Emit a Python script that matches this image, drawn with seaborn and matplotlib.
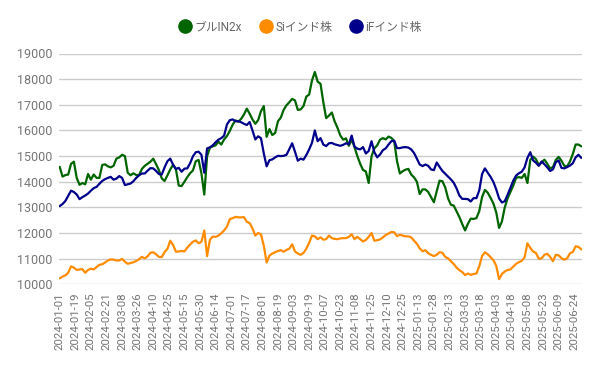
import numpy as np
import pandas as pd
import matplotlib
matplotlib.use("Agg")
import matplotlib.pyplot as plt
from matplotlib.lines import Line2D
import seaborn as sns

# ---- data (every 2nd trading day) ----
N_DAYS = 369          # trading days on the category axis
STEP = 2              # sampling step of the series below
TICK_EVERY = 11

tick_labels = [
    "2024-01-01", "2024-01-19", "2024-02-05", "2024-02-21", "2024-03-08", "2024-03-26",
    "2024-04-10", "2024-04-25", "2024-05-15", "2024-05-30", "2024-06-14", "2024-07-01",
    "2024-07-17", "2024-08-01", "2024-08-19", "2024-09-03", "2024-09-19", "2024-10-07",
    "2024-10-23", "2024-11-08", "2024-11-25", "2024-12-10", "2024-12-25", "2025-01-13",
    "2025-01-28", "2025-02-13", "2025-03-03", "2025-03-18", "2025-04-03", "2025-04-18",
    "2025-05-08", "2025-05-23", "2025-06-09", "2025-06-24",
]

bull_in2x = [
    14580, 14200, 14260, 14280, 14700, 14780, 14150, 13880, 13950, 13900,
    14300, 14080, 14280, 14150, 14150, 14650, 14680, 14600, 14560, 14620,
    14900, 14950, 15050, 15000, 14350, 14250, 14330, 14260, 14260, 14500,
    14620, 14700, 14780, 14900, 14680, 14450, 14130, 14030, 14250, 14480,
    14660, 14480, 13850, 13830, 14000, 14180, 14330, 14440, 14800, 14850,
    14320, 13500, 15000, 15330, 15380, 15420, 15560, 15450, 15650, 15780,
    15980, 16220, 16390, 16340, 16450, 16620, 16850, 16650, 16430, 16260,
    16400, 16750, 16950, 15750, 16050, 15820, 15900, 16360, 16500, 16800,
    16980, 17100, 17230, 17170, 16800,
    16820, 16950, 17320, 17400, 17950, 18280, 17900, 17820, 17100, 16480,
    16580, 16700, 16350, 16100, 15800, 15640, 15690, 15400, 15640, 15350,
    15000, 14700, 14460, 14400, 13950, 14990, 15300, 15420, 15640, 15700,
    15650, 15760, 15710, 15580, 14800, 14320, 14410, 14470, 14500, 14280,
    14170, 14000, 13520, 13700, 13700, 13600, 13400, 13200, 13630, 14040,
    14020, 13780, 13350, 13100, 13070, 12840, 12620, 12350, 12100, 12360,
    12560, 12550, 12580, 12850, 13400, 13680, 13570, 13370, 13150, 12800,
    12200, 12450, 13000, 13350, 13600, 13850, 14150, 14180, 14150, 14300,
    13950, 14850, 14980, 14880, 14650, 14750, 14860, 14700, 14520, 14570,
    14850, 14970, 14820, 14620, 14600, 14790, 15080, 15450, 15450, 15380,
]

si_india = [
    10230, 10300, 10350, 10450, 10700, 10650, 10560, 10580, 10590, 10450,
    10560, 10610, 10580, 10670, 10760, 10780, 10850, 10930, 10970, 10960,
    10930, 10930, 10990, 10880, 10800, 10830, 10860, 10910, 10980, 11070,
    11010, 11090, 11230, 11250, 11170, 11070, 11060, 11260, 11380, 11700,
    11530, 11270, 11280, 11300, 11280, 11430, 11550, 11660, 11710, 11600,
    11660, 12100, 11100, 11740, 11860, 11850, 11900, 11990, 12100, 12250,
    12540, 12580, 12630, 12610, 12610, 12620, 12440, 12390, 12180, 11900,
    12000, 11950, 11500, 10850, 11120, 11200, 11250, 11300, 11330, 11270,
    11340, 11390, 11560, 11280, 11200,
    11150, 11220, 11390, 11620, 11900, 11870, 11760, 11830, 11740, 11760,
    11900, 11800, 11770, 11760, 11790, 11800, 11800, 11850, 11950, 11760,
    11850, 11760, 11670, 11730, 11850, 12000, 11700, 11720, 11750, 11830,
    11920, 11980, 12040, 12030, 11880, 11930, 11900, 11870, 11870, 11830,
    11700, 11580, 11400, 11290, 11330, 11210, 11150, 11100, 11150, 11250,
    11230, 11070, 11010, 10900, 10790, 10650, 10550, 10480, 10360, 10420,
    10370, 10400, 10420, 10700, 11100, 11250, 11170, 11060, 10940, 10720,
    10200, 10400, 10500, 10560, 10580, 10690, 10800, 10860, 10920, 11050,
    11600, 11420, 11280, 11220, 11000, 11010, 11150, 11190, 11070, 10900,
    11150, 11130, 11020, 10960, 11010, 11210, 11260, 11480, 11460, 11360,
]

if_india = [
    13050, 13130, 13250, 13450, 13650, 13600, 13500, 13320, 13400, 13460,
    13540, 13650, 13750, 13800, 13920, 14030, 14100, 14150, 14190, 14080,
    14120, 14220, 14150, 13870, 13900, 13930, 14020, 14150, 14250, 14320,
    14320, 14430, 14530, 14520, 14420, 14300, 14280, 14560, 14800, 14900,
    14660, 14500, 14540, 14390, 14510, 14520, 14720, 14990, 15150, 15170,
    15050, 14350, 15300, 15340, 15420, 15540, 15640, 15700, 15800, 16230,
    16400, 16430, 16360, 16360, 16320, 16260, 16210, 16330, 16000, 15650,
    15770, 15700, 15100, 14600, 14840, 14870, 14950, 15010, 15000, 15010,
    15050, 15270, 15500, 15170, 14820,
    14900, 14860, 15040, 15260, 15520, 16000, 15580, 15700, 15450, 15390,
    15500, 15510, 15460, 15430, 15400, 15440, 15500, 15460, 15800, 15370,
    15290, 15260, 15350, 15100, 15200, 15580, 15150, 14950, 15060, 15230,
    15300, 15450, 15580, 15600, 15310, 15310, 15340, 15350, 15330, 15260,
    15120, 14900, 14670, 14610, 14670, 14620, 14480, 14450, 14750, 14580,
    14420, 14310, 14200, 14090, 13960, 13740, 13460, 13330, 13330, 13320,
    13230, 13360, 13360, 13660, 14300, 14520, 14350, 14190, 13990, 13700,
    13350, 13190, 13240, 13490, 13760, 14040, 14240, 14330, 14390, 14560,
    14930, 15150, 14830, 14740, 14620, 14790, 14680, 14560, 14420, 14480,
    14760, 14830, 14540, 14520, 14570, 14630, 14720, 14950, 15050, 14930,
]

series_names = ["ブルIN2x", "Siインド株", "iFインド株"]
series_colors = ["#006400", "#FF8C00", "#00008B"]
y_ticks = [10000, 11000, 12000, 13000, 14000, 15000, 16000, 17000, 18000, 19000]

# ---- long-format table ----
frames = []
for name, vals in zip(series_names, [bull_in2x, si_india, if_india]):
    frames.append(pd.DataFrame({
        "day": np.arange(len(vals)) * STEP,
        "value": vals,
        "series": name,
    }))
df = pd.concat(frames, ignore_index=True)

# ---- figure ----
sns.set_theme(style="white")
plt.rcParams["font.family"] = ["Roboto", "Noto Sans CJK JP", "DejaVu Sans"]

fig = plt.figure(figsize=(6.0, 3.71), dpi=100)
ax = fig.add_axes([59 / 600, 1 - 284.3 / 371, 523 / 600, (284.3 - 53.5) / 371])

sns.lineplot(data=df, x="day", y="value", hue="series", hue_order=series_names,
             palette=series_colors, linewidth=1.6, legend=False, ax=ax,
             estimator=None, sort=False)

ax.set_xlim(-0.5, N_DAYS - 0.5)
ax.set_ylim(y_ticks[0], y_ticks[-1])
ax.set_yticks(y_ticks)
ax.set_yticklabels([str(v) for v in y_ticks])
ax.set_xticks(np.arange(len(tick_labels)) * TICK_EVERY)
ax.set_xticklabels(tick_labels, rotation=90)
ax.set_xlabel("")
ax.set_ylabel("")

ax.grid(axis="y", color="#cccccc", linewidth=1.0)
ax.grid(axis="x", visible=False)
ax.set_axisbelow(True)
for s in ax.spines.values():
    s.set_visible(False)
ax.tick_params(axis="y", length=0, pad=4.5, labelsize=9, labelcolor="#757575")
ax.tick_params(axis="x", length=0, pad=6.0, labelsize=8.2, labelcolor="#757575")

handles = [Line2D([0], [0], marker="o", linestyle="none", markersize=9.5,
                  markerfacecolor=c, markeredgecolor=c) for c in series_colors]
fig.legend(handles, series_names, loc="center", bbox_to_anchor=(0.5, 1 - 27 / 371),
           ncol=3, frameon=False, fontsize=8.5, labelcolor="#666666",
           handletextpad=0.2, columnspacing=1.4, handlelength=1.2)

fig.savefig("out.png", dpi=100)
